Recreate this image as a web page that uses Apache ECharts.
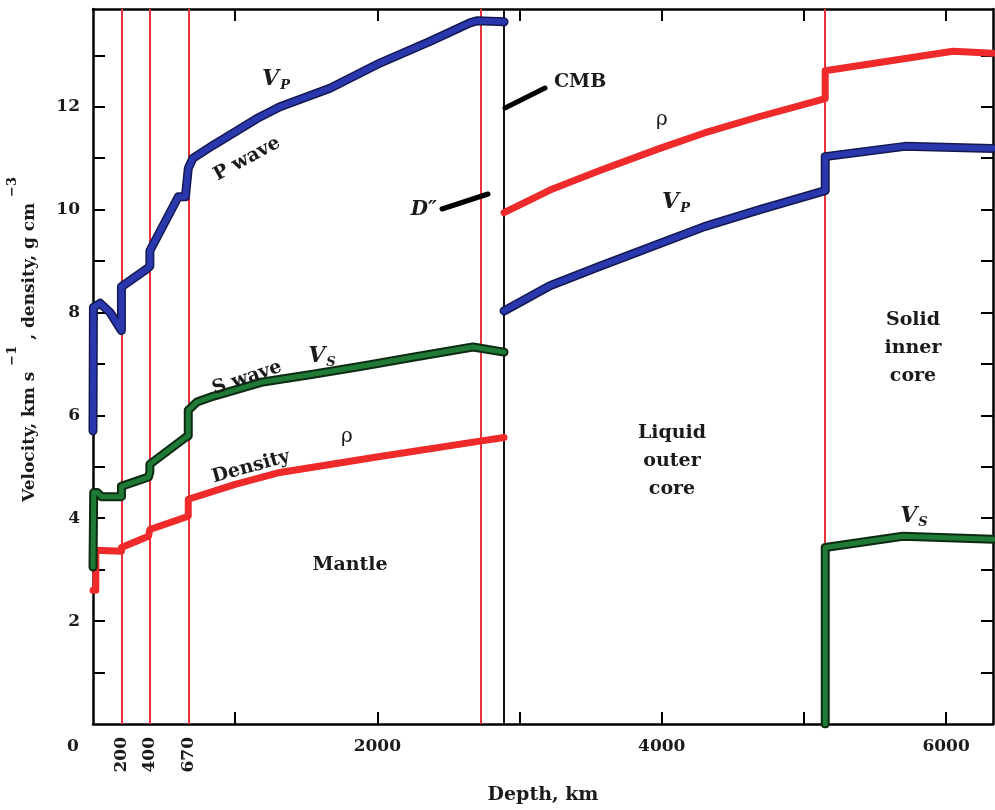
<!DOCTYPE html>
<html>
<head>
<meta charset="utf-8">
<script src="https://cdn.jsdelivr.net/npm/echarts@6/dist/echarts.min.js"></script>
<style>html,body{margin:0;padding:0;background:#fff}#c{width:995px;height:810px}</style>
</head>
<body>
<div id="c"></div>
<script>
// ---- data (depth km, value) ----
const pMantle = [[0,5.7],[3,8.1],[50,8.18],[120,8.0],[200,7.65],[200,8.5],[380,8.85],[400,8.9],[400,9.2],[600,10.25],[650,10.25],[670,10.8],[703,11.0],[844,11.25],[1153,11.77],[1315,12.0],[1667,12.36],[2018,12.85],[2370,13.27],[2651,13.63],[2700,13.67],[2891,13.65]];
const pCore = [[2891,8.03],[3214,8.52],[3565,8.9],[3987,9.34],[4300,9.67],[4690,10.0],[5150,10.37],[5150,11.03],[5710,11.23],[6330,11.19]];
const sMantle = [[0,3.05],[5,4.5],[30,4.5],[60,4.42],[200,4.42],[200,4.62],[390,4.8],[400,4.9],[400,5.05],[650,5.57],[670,5.6],[670,6.1],[731,6.26],[844,6.37],[1195,6.65],[1547,6.8],[1899,6.96],[2250,7.13],[2672,7.33],[2891,7.23]];
const sInner = [[5150,0],[5150,3.43],[5696,3.65],[6330,3.59]];
const rhoMantle = [[0,2.6],[20,2.6],[20,3.38],[200,3.36],[200,3.43],[390,3.65],[400,3.66],[400,3.78],[650,4.02],[670,4.04],[670,4.37],[1000,4.66],[1315,4.89],[2018,5.2],[2721,5.5],[2891,5.57]];
const rhoCore = [[2891,9.94],[3214,10.38],[3565,10.76],[3987,11.19],[4300,11.49],[4690,11.81],[5150,12.16],[5150,12.7],[6048,13.08],[6330,13.04]];
const redBoundaries = [200, 400, 670, 2730, 5150];
const cmbDepth = [2891];
const depthLabels = [0, 2000, 4000, 6000];
const depthTicks = [1000, 2000, 3000, 4000, 5000, 6000];
const boundaryLabels = [200, 400, 670];
const valueTicks = [1,2,3,4,5,6,7,8,9,10,11,12,13];
const valueLabels = [2,4,6,8,10,12];

const SERIF = '"DejaVu Serif", serif';
const TXT = '#1b1b1b';
const XMAX = 6330, YMAX = 13.9;

const chart = echarts.init(document.getElementById('c'), null, {renderer:'canvas'});

function curve(data, color, width, z){
  return {type:'line', data:data, showSymbol:false, symbol:'none', silent:true, z:z,
    lineStyle:{color:color, width:width, join:'round', cap:'round'}};
}
const vLines = {type:'line', data:[], silent:true, z:1,
  markLine:{symbol:['none','none'], silent:true, animation:false, label:{show:false},
    lineStyle:{color:'#e8323c', width:2, type:'solid'},
    data: redBoundaries.map(v=>({xAxis:v}))}};
const cmbLine = {type:'line', data:[], silent:true, z:1,
  markLine:{symbol:['none','none'], silent:true, animation:false, label:{show:false},
    lineStyle:{color:'#111', width:2, type:'solid'},
    data: cmbDepth.map(v=>({xAxis:v}))}};

const boldFont = (s)=>({fontFamily:SERIF, fontWeight:'bold', fontSize:s, color:TXT});
function txt(x,y,text,opt){
  opt = opt||{};
  return {type:'text', x:x, y:y, rotation:opt.rot||0, z:100, silent:true,
    style:Object.assign({text:text, fill:TXT, font:(opt.italic?'italic ':'')+(opt.normal?'normal ':'bold ')+(opt.size||19)+'px '+SERIF,
      align:opt.align||'center', verticalAlign:'middle', lineHeight:opt.lh}, opt.extra||{})};
}
function sub(x,y,main,s){
  return {type:'text', x:x, y:y, z:100, silent:true,
    style:{text:'{v|'+main+'}{s|'+s+'}', align:'center', verticalAlign:'middle',
      rich:{v:{fontFamily:SERIF, fontStyle:'italic', fontWeight:'bold', fontSize:22, lineHeight:24, verticalAlign:'top', fill:TXT},
            s:{fontFamily:SERIF, fontStyle:'italic', fontWeight:'bold', fontSize:13, lineHeight:13, padding:[12,0,0,1], verticalAlign:'bottom', fill:TXT}}}};
}

const option = {
  animation:false,
  backgroundColor:'#fff',
  grid:{left:93, right:2, top:9, bottom:86, containLabel:false},
  xAxis:[
    {type:'value', min:0, max:XMAX, position:'bottom',
     axisLine:{show:true, onZero:false, lineStyle:{color:'#000', width:2.5}},
     axisTick:{show:true, inside:true, length:12, customValues:depthTicks, lineStyle:{color:'#000', width:2}},
     axisLabel:{customValues:depthLabels, margin:14, ...boldFont(17),
       formatter:(v)=> v===0 ? '{z|0}' : String(v),
       rich:{z:{fontFamily:SERIF, fontWeight:'bold', fontSize:17, color:TXT, padding:[0,40,0,0]}}},
     splitLine:{show:false},
     name:'Depth, km', nameLocation:'middle', nameGap:62,
     nameTextStyle:{fontFamily:SERIF, fontWeight:'bold', fontSize:19, color:TXT}},
    {type:'value', min:0, max:XMAX, position:'top',
     axisLine:{show:true, onZero:false, lineStyle:{color:'#000', width:2.5}},
     axisTick:{show:true, inside:true, length:12, customValues:depthTicks, lineStyle:{color:'#000', width:2}},
     axisLabel:{show:false}, splitLine:{show:false}},
    {type:'value', min:0, max:XMAX, position:'bottom',
     axisLine:{show:false}, axisTick:{show:false}, splitLine:{show:false},
     axisLabel:{customValues:boundaryLabels, rotate:90, margin:13, ...boldFont(17)}}
  ],
  yAxis:[
    {type:'value', min:0, max:YMAX, position:'left',
     axisLine:{show:true, onZero:false, lineStyle:{color:'#000', width:2.5}},
     axisTick:{show:true, inside:true, length:12, customValues:valueTicks, lineStyle:{color:'#000', width:2}},
     axisLabel:{customValues:valueLabels, margin:13, ...boldFont(17)},
     splitLine:{show:false}},
    {type:'value', min:0, max:YMAX, position:'right',
     axisLine:{show:true, onZero:false, lineStyle:{color:'#000', width:2.5}},
     axisTick:{show:true, inside:true, length:12, customValues:valueTicks, lineStyle:{color:'#000', width:2}},
     axisLabel:{show:false}, splitLine:{show:false}}
  ],
  series:[
    vLines, cmbLine,
    curve(rhoMantle, '#ee2a2a', 7, 5),
    curve(rhoCore, '#ee2a2a', 7, 5),
    curve(sMantle, '#0d2a12', 9, 5),
    curve(sMantle, '#1f7a35', 5, 6),
    curve(sInner, '#0d2a12', 9, 5),
    curve(sInner, '#1f7a35', 5, 6),
    curve(pMantle, '#121850', 9, 5),
    curve(pMantle, '#2b38ad', 6, 6),
    curve(pCore, '#121850', 9, 5),
    curve(pCore, '#2b38ad', 6, 6)
  ],
  graphic:[
    {type:'line', z:100, silent:true, shape:{x1:505,y1:108,x2:545,y2:88}, style:{stroke:'#000', lineWidth:5, lineCap:'round'}},
    {type:'line', z:100, silent:true, shape:{x1:442,y1:209,x2:488,y2:194}, style:{stroke:'#000', lineWidth:5, lineCap:'round'}},
    txt(554, 82, 'CMB', {align:'left'}),
    txt(437, 210, 'D″', {align:'right', italic:true, size:20}),
    sub(276, 80, 'V', 'P'),
    txt(247, 159, 'P wave', {rot:0.5}),
    txt(247, 378, 'S wave', {rot:0.33}),
    sub(322, 357, 'V', 'S'),
    txt(347, 437, 'ρ', {normal:true, size:20}),
    txt(251, 467, 'Density', {rot:0.27}),
    txt(350, 565, 'Mantle'),
    txt(662, 120, 'ρ', {normal:true, size:20}),
    sub(676, 203, 'V', 'P'),
    txt(672, 461, 'Liquid\nouter\ncore', {lh:28}),
    txt(913, 348, 'Solid\ninner\ncore', {lh:28}),
    sub(914, 517, 'V', 'S'),
    {type:'text', x:22, y:340, rotation:Math.PI/2, z:100, silent:true,
     style:{text:'{h| }{a|Velocity, km s }{p|−1}{a| , density, g cm }{p|−3}', align:'center', verticalAlign:'middle',
       rich:{h:{fontSize:4, lineHeight:32, fill:TXT},
             a:{fontFamily:SERIF, fontWeight:'bold', fontSize:17, lineHeight:21, verticalAlign:'bottom', fill:TXT},
             p:{fontFamily:SERIF, fontWeight:'bold', fontSize:13, lineHeight:13, verticalAlign:'top', fill:TXT}}}}
  ]
};
chart.setOption(option);
</script>
</body>
</html>
